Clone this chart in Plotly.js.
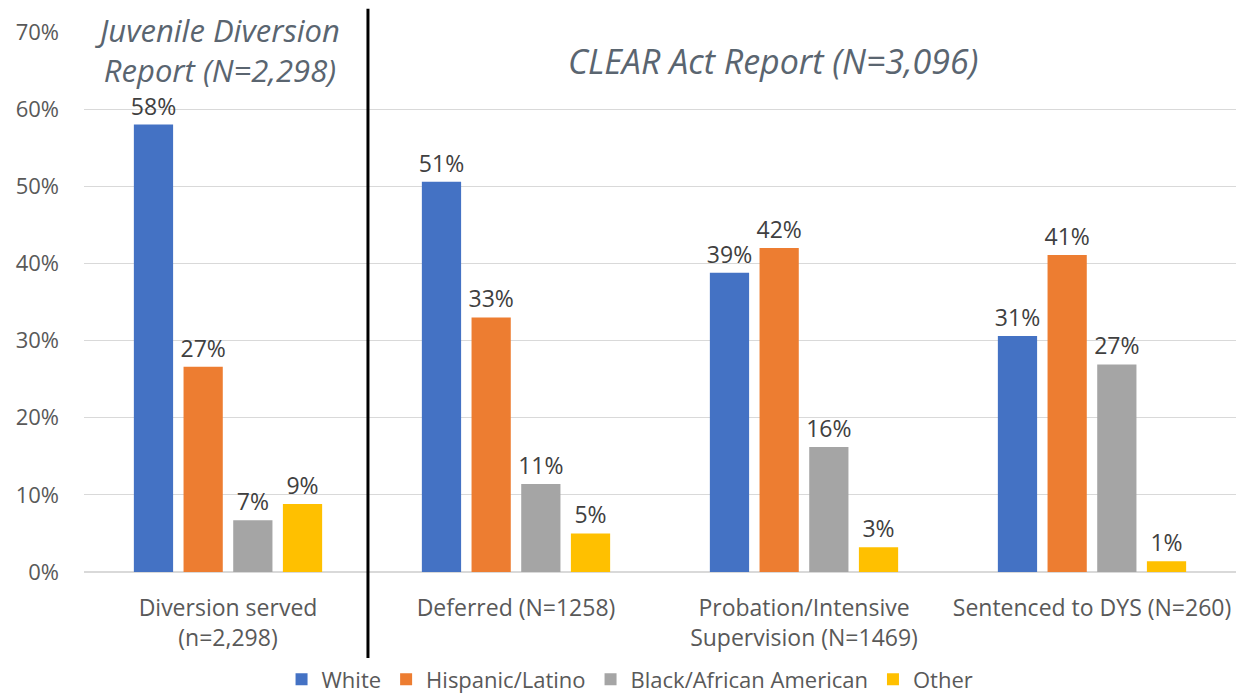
<!DOCTYPE html>
<html>
<head>
<meta charset="utf-8">
<script src="https://cdn.plot.ly/plotly-3.0.1.min.js"></script>
<style>html,body{margin:0;padding:0;background:#fff;}#chart{width:1243px;height:696px;}</style>
</head>
<body>
<div id="chart"></div>
<script>
const categories = [
  "Diversion served<br>(n=2,298)",
  "Deferred (N=1258)",
  "Probation/Intensive<br>Supervision (N=1469)",
  "Sentenced to DYS (N=260)"
];
const seriesNames = ["White", "Hispanic/Latino", "Black/African American", "Other"];
const white    = [0.580, 0.506, 0.388, 0.306];
const hispanic = [0.266, 0.330, 0.420, 0.411];
const black    = [0.067, 0.114, 0.162, 0.269];
const other    = [0.088, 0.050, 0.032, 0.014];
const colors = ["#4472C4", "#ED7D31", "#A5A5A5", "#FFC000"];
const yTickVals = [0, 0.1, 0.2, 0.3, 0.4, 0.5, 0.6, 0.7];

const FONT = "Open Sans, Noto Sans, sans-serif";
const values = [white, hispanic, black, other];
const traces = values.map((v, i) => ({
  type: "bar",
  name: seriesNames[i],
  x: categories,
  y: v,
  marker: {color: colors[i], line: {width: 0}},
  texttemplate: "%{y:.0%}",
  textposition: "outside",
  constraintext: "none",
  textfont: {family: FONT, size: 23, color: "#404040"},
  cliponaxis: false,
  hoverinfo: "x+y"
}));

const layout = {
  width: 1243, height: 696,
  margin: {l: 84, r: 7, t: 32, b: 124, autoexpand: false},
  paper_bgcolor: "#ffffff",
  plot_bgcolor: "#ffffff",
  barmode: "group",
  bargap: 0.31,
  bargroupgap: 0.21,
  font: {family: FONT, color: "#595959"},
  showlegend: true,
  legend: {
    orientation: "h", x: 0.474, xanchor: "center", y: -0.199, yanchor: "middle",
    font: {family: FONT, size: 22, color: "#595959"},
    traceorder: "normal"
  },
  xaxis: {
    type: "category",
    range: [-0.5, 3.5],
    showgrid: false, showline: false, zeroline: false,
    ticks: "outside", ticklen: 15, tickcolor: "rgba(0,0,0,0)",
    tickfont: {family: FONT, size: 23, color: "#595959"},
    automargin: false,
    fixedrange: true
  },
  yaxis: {
    range: [0, 0.7],
    tickvals: yTickVals,
    tickformat: ".0%",
    showgrid: true, gridcolor: "#d9d9d9", gridwidth: 1,
    zeroline: true, zerolinecolor: "#d9d9d9", zerolinewidth: 2,
    showline: false,
    ticks: "", ticklabelstandoff: 24,
    tickfont: {family: FONT, size: 22, color: "#595959"},
    automargin: false,
    fixedrange: true
  },
  shapes: [{
    type: "line", xref: "paper", yref: "paper",
    x0: 0.2465, x1: 0.2465, y0: -0.1685, y1: 1.043,
    line: {color: "#000000", width: 3}
  }],
  annotations: [
    {xref: "paper", yref: "paper", x: 0.1163, y: 0.967, xanchor: "center", yanchor: "middle",
     text: "<i>Juvenile Diversion<br>Report (N=2,298)</i>", showarrow: false, align: "center",
     borderpad: 0,
     font: {family: FONT, size: 31, color: "#5a6570"}},
    {xref: "paper", yref: "paper", x: 0.598, y: 0.946, xanchor: "center", yanchor: "middle",
     text: "<i>CLEAR Act Report (N=3,096)</i>", showarrow: false, borderpad: 0,
     font: {family: FONT, size: 34, color: "#5a6570"}}
  ]
};

Plotly.newPlot("chart", traces, layout, {displayModeBar: false, staticPlot: true});
</script>
</body>
</html>
